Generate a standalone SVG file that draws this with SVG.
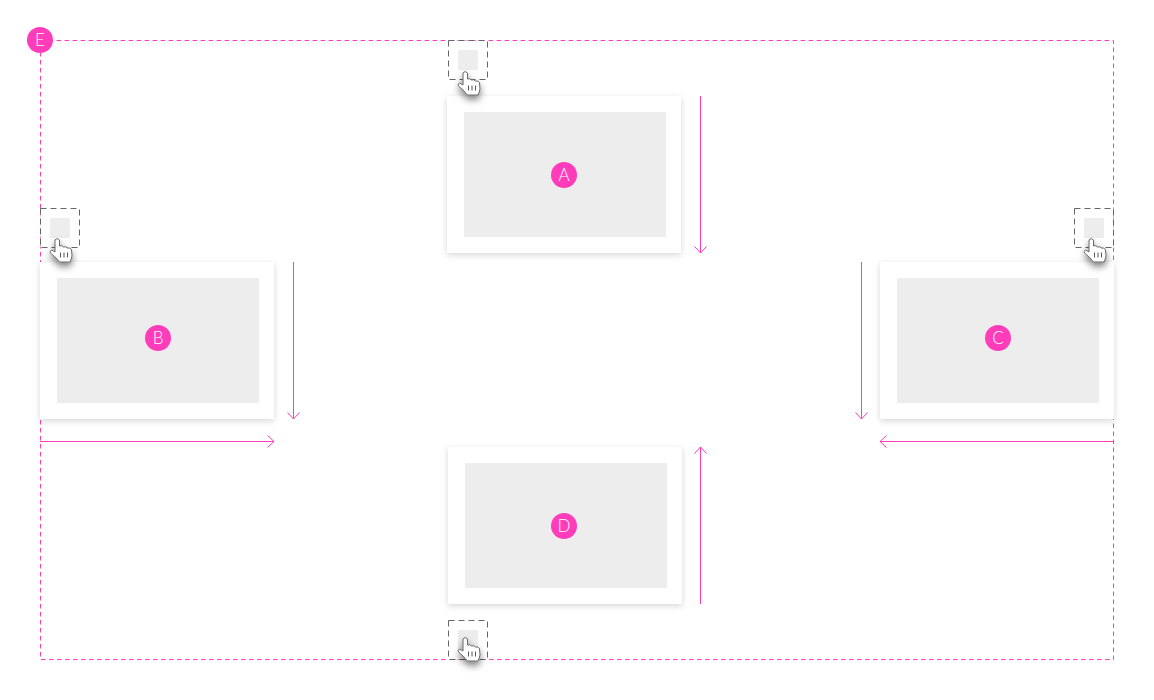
<svg xmlns="http://www.w3.org/2000/svg" xmlns:xlink="http://www.w3.org/1999/xlink" width="1154" height="700" viewBox="0 0 1154 700">
<style>
.card{fill:#fff;filter:url(#cs)}
.fill{fill:#ededed}
.badge{fill:#ff3cb9}
.lbl{fill:#fff;font-family:"Lato","Liberation Sans",sans-serif;font-weight:300;font-size:17px;text-anchor:middle}
.pink{fill:none;stroke:#ff3cb9;stroke-width:1}
.dash{stroke-dasharray:4.500 3.500}
.box{fill:#fff;stroke:#666;stroke-width:1;stroke-dasharray:6 4}
</style>
<defs>
<filter id="cs" x="-10%" y="-10%" width="120%" height="125%"><feDropShadow dx="0" dy="2" stdDeviation="3" flood-color="#000" flood-opacity=".16"/></filter>
<filter id="hs" x="-80%" y="-50%" width="260%" height="220%"><feDropShadow dx="0" dy="4" stdDeviation="3.600" flood-color="#000" flood-opacity=".5"/></filter>
<marker id="a" viewBox="0 0 8 14" refX="7.500" refY="7" markerWidth="8" markerHeight="14" markerUnits="userSpaceOnUse" orient="auto"><path d="M1 1L7.500 7L1 13" fill="none" stroke="#ff3cb9" stroke-width="1"/></marker>
<g id="hand"><path d="M-2 2Q0-1 2.500 2L2.500 8Q5 7 6.500 9Q9 8 10.500 10Q13 9.500 14.500 11.500L15 18Q14.500 21 13 24L2.500 24Q0 21-2 19L-6.500 15Q-7.500 13-5.500 12L-2 14Z" fill="#fff" stroke="#666" stroke-width="1" filter="url(#hs)"/><path d="M3.500 14.500v5M7 14.500v5M10.500 14.500v5" stroke="#555" stroke-width="1" fill="none"/></g>
</defs>
<rect width="1154" height="700" fill="#fff"/>
<g id="connectors">
<rect class="pink dash" x="40.500" y="40.500" width="1073" height="619"/>
<path class="pink" marker-end="url(#a)" d="M700.500 96V253"/>
<path class="pink" marker-end="url(#a)" d="M293.500 262V419"/>
<path class="pink" marker-end="url(#a)" d="M861.500 262V419"/>
<path class="pink" marker-end="url(#a)" d="M700.500 604V447"/>
<path class="pink" marker-end="url(#a)" d="M40 441.500H274"/>
<path class="pink" marker-end="url(#a)" d="M1114 441.500H880"/>
</g>
<g id="node-A"><rect class="card" x="447" y="96" width="234" height="157"/><rect class="fill" x="464" y="112" width="202" height="125"/><circle class="badge" cx="564" cy="175" r="13"/><text class="lbl" x="564" y="181">A</text></g>
<g id="node-B"><rect class="card" x="40" y="262" width="234" height="157"/><rect class="fill" x="57" y="278" width="202" height="125"/><circle class="badge" cx="158" cy="338" r="13"/><text class="lbl" x="158" y="344">B</text></g>
<g id="node-C"><rect class="card" x="880" y="262" width="234" height="157"/><rect class="fill" x="897" y="278" width="202" height="125"/><circle class="badge" cx="998" cy="338" r="13"/><text class="lbl" x="998" y="344">C</text></g>
<g id="node-D"><rect class="card" x="448" y="447" width="234" height="157"/><rect class="fill" x="465" y="463" width="202" height="125"/><circle class="badge" cx="564" cy="526" r="13"/><text class="lbl" x="564" y="532">D</text></g>
<g id="node-E"><circle class="badge" cx="40" cy="40" r="13"/><text class="lbl" x="40" y="46">E</text></g>
<g id="handle-top"><rect class="box" x="448.500" y="40.500" width="39" height="39"/><rect class="fill" x="458" y="50" width="20" height="20"/><use xlink:href="#hand" href="#hand" x="465" y="71"/></g>
<g id="handle-left"><rect class="box" x="40.500" y="208.500" width="39" height="39"/><rect class="fill" x="50" y="218" width="20" height="20"/><use xlink:href="#hand" href="#hand" x="57" y="238"/></g>
<g id="handle-right"><rect class="box" x="1074.500" y="208.500" width="39" height="39"/><rect class="fill" x="1084" y="218" width="20" height="20"/><use xlink:href="#hand" href="#hand" x="1091" y="238"/></g>
<g id="handle-bottom"><rect class="box" x="448.500" y="620.500" width="39" height="39"/><rect class="fill" x="458" y="630" width="20" height="20"/><use xlink:href="#hand" href="#hand" x="465" y="637"/></g>
</svg>
